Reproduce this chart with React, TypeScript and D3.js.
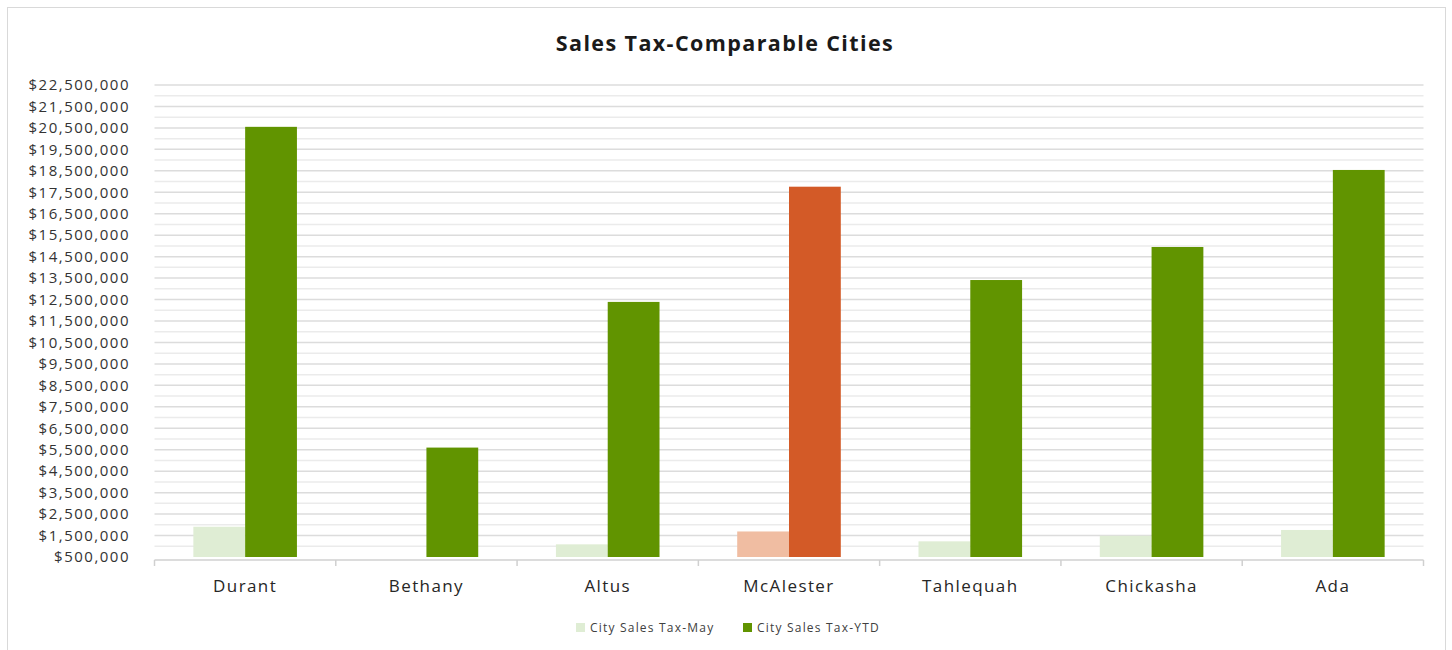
import React from "react";
import * as d3 from "d3";

const categories = ["Durant", "Bethany", "Altus", "McAlester", "Tahlequah", "Chickasha", "Ada"];
const mayValues = [1910000, 0, 1090000, 1690000, 1230000, 1490000, 1760000];
const ytdValues = [20550000, 5600000, 12390000, 17760000, 13410000, 14950000, 18540000];
const seriesNames = ["City Sales Tax-May", "City Sales Tax-YTD"];
const yTicks = d3.range(500000, 22500001, 1000000);
const yMinorTicks = d3.range(1000000, 22500001, 1000000);
const highlightCity = "McAlester";

const W = 1452;
const H = 650;
const plot = { left: 154.5, right: 1423.5, top: 85, bottom: 557 };

const colors = {
  may: "#dfedd4",
  ytd: "#619400",
  mayHi: "#f0bda2",
  ytdHi: "#d35a27",
};

export default function App() {
  const x = d3.scaleBand<string>().domain(categories).range([plot.left, plot.right]).paddingInner(0).paddingOuter(0);
  const y = d3.scaleLinear().domain([500000, 22500000]).range([plot.bottom, plot.top]);
  const bw = x.bandwidth();
  const barW = bw / 3.5;
  const fmt = (v: number) => "$" + d3.format(",")(v);
  const font = "'Open Sans', 'Liberation Sans', sans-serif";

  return (
    <svg width={W} height={H} style={{ position: "absolute", left: 0, top: 0, background: "#fff" }}>
      <rect x={7.5} y={7.5} width={1438} height={660} fill="#fff" stroke="#d9d9d9" strokeWidth={1} />
      <text x={725} y={51} textAnchor="middle" fontFamily={font} fontWeight="bold" fontSize={21.5} letterSpacing={1.4} fill="#1a1a1a">
        Sales Tax-Comparable Cities
      </text>
      {yMinorTicks.map((t) => (
        <line key={"m" + t} x1={plot.left} x2={plot.right} y1={y(t)} y2={y(t)} stroke="#ebebeb" strokeWidth={1.5} />
      ))}
      {yTicks.map((t) => (
        <g key={t}>
          {t > 500000 && <line x1={plot.left} x2={plot.right} y1={y(t)} y2={y(t)} stroke="#dcdcdc" strokeWidth={1.5} />}
          <text x={130} y={y(t)} dy="0.35em" textAnchor="end" fontFamily={font} fontSize={15} letterSpacing={1.5} fill="#333333">
            {fmt(t)}
          </text>
        </g>
      ))}
      {categories.map((c, i) => {
        const x0 = x(c)!;
        const cx = x0 + bw / 2;
        const hi = c === highlightCity;
        const mTop = y(Math.max(mayValues[i], 500000));
        const yTop = y(ytdValues[i]);
        return (
          <g key={c}>
            <rect x={cx - barW} y={mTop} width={barW} height={Math.max(0, plot.bottom - mTop)} fill={hi ? colors.mayHi : colors.may} />
            <rect x={cx} y={yTop} width={barW} height={plot.bottom - yTop} fill={hi ? colors.ytdHi : colors.ytd} />
            <text x={cx} y={592} textAnchor="middle" fontFamily={font} fontSize={17} letterSpacing={1.4} fill="#262626">
              {c}
            </text>
          </g>
        );
      })}
      <line x1={plot.left} x2={plot.right} y1={560} y2={560} stroke="#d0d0d0" strokeWidth={1.5} />
      {d3.range(categories.length + 1).map((i) => {
        const tx = plot.left + i * bw;
        return <line key={i} x1={tx} x2={tx} y1={560} y2={566} stroke="#d0d0d0" strokeWidth={1.5} />;
      })}
      <g fontFamily={font} fontSize={12} letterSpacing={1.2} fill="#404040">
        <rect x={576} y={623} width={9} height={9} fill={colors.may} />
        <text x={590} y={628} dy="0.35em">{seriesNames[0]}</text>
        <rect x={743} y={623} width={9} height={9} fill={colors.ytd} />
        <text x={757} y={628} dy="0.35em">{seriesNames[1]}</text>
      </g>
    </svg>
  );
}
